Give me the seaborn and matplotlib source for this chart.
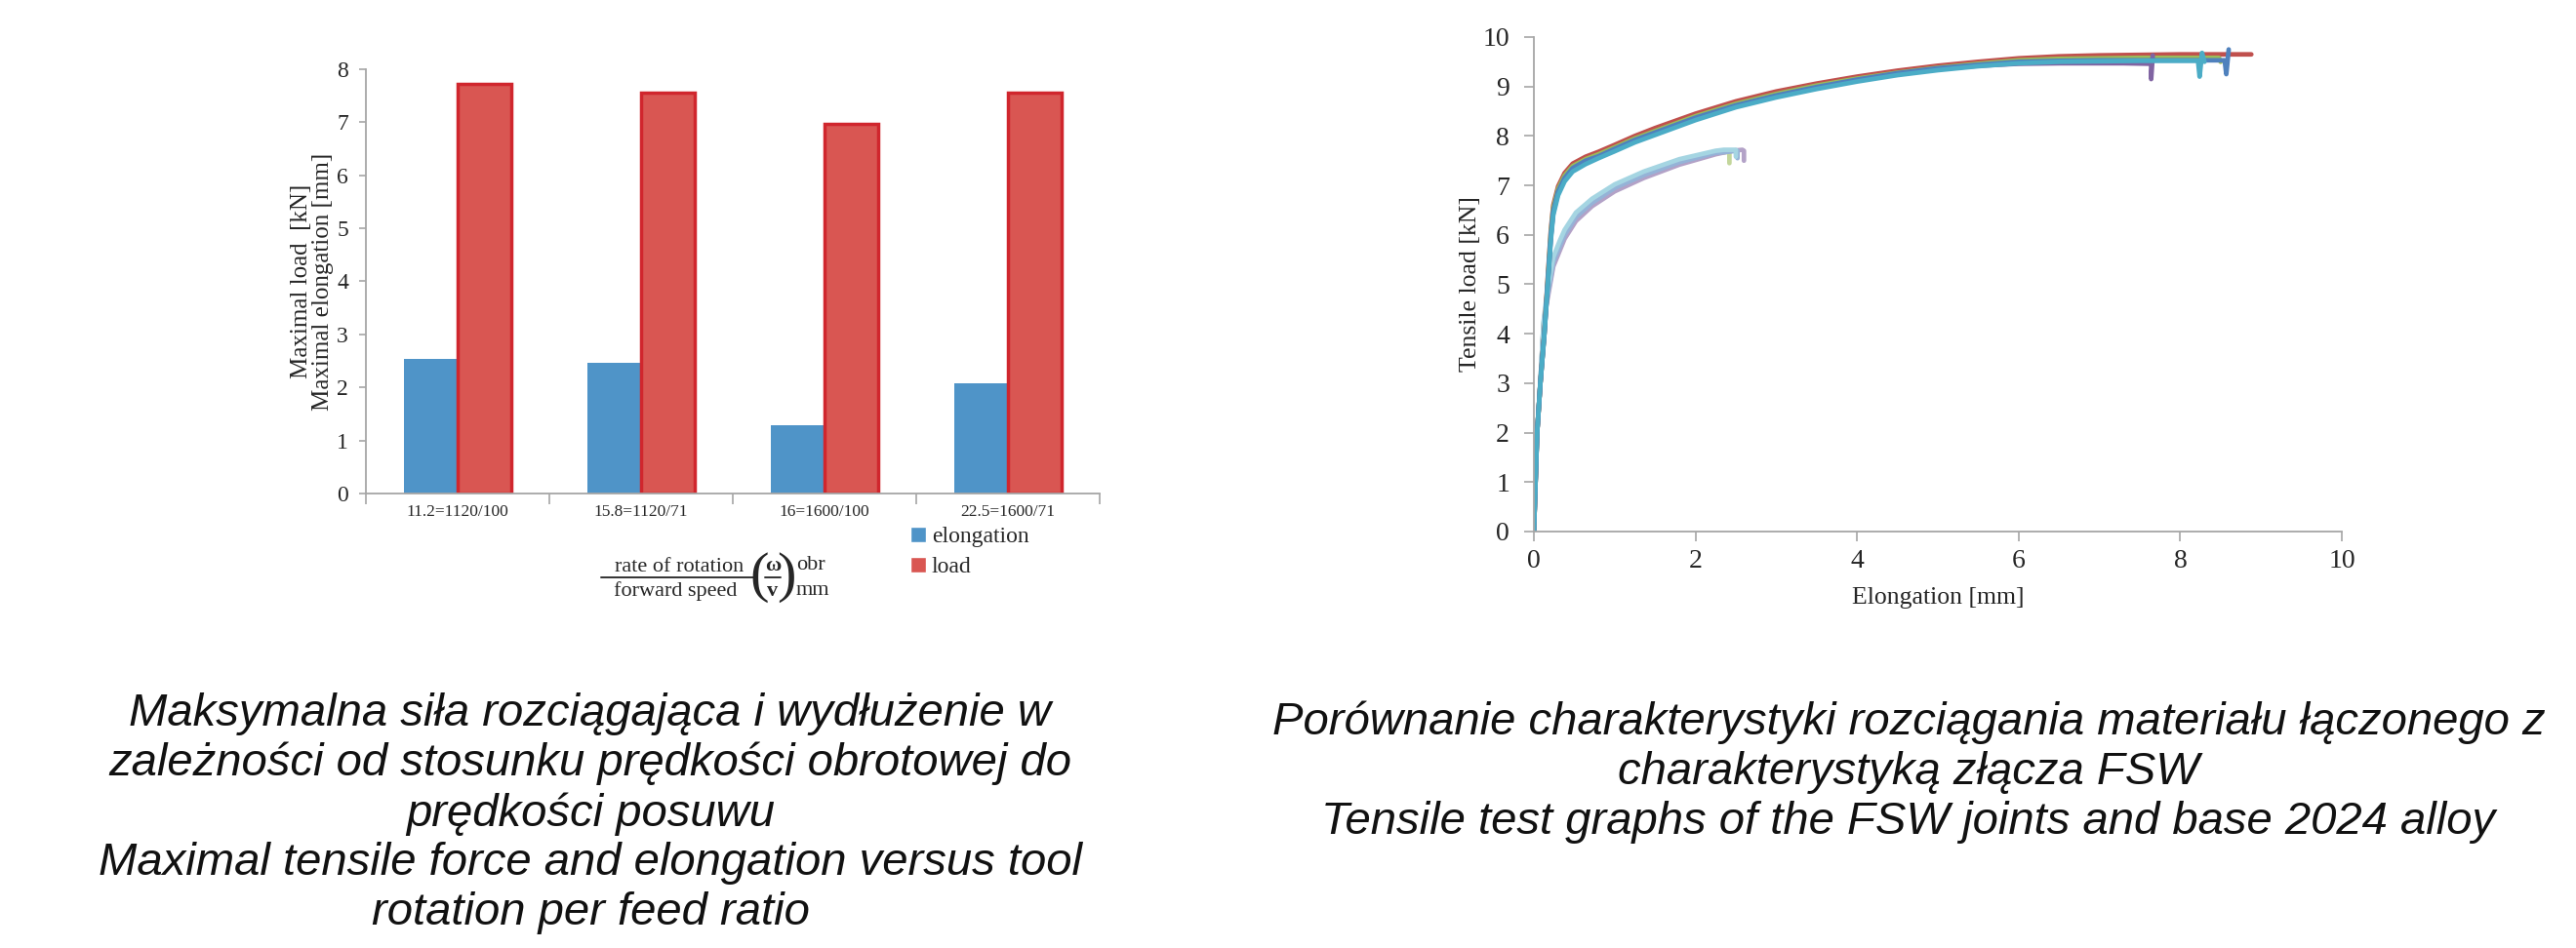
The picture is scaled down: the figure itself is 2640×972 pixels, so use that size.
import numpy as np
import pandas as pd
import matplotlib
matplotlib.use("Agg")
import matplotlib.pyplot as plt
from matplotlib.lines import Line2D
import seaborn as sns

# ---------------- data: left bar chart ----------------
categories = ["11.2=1120/100", "15.8=1120/71", "16=1600/100", "22.5=1600/71"]
elongation = [2.53, 2.47, 1.28, 2.07]
load = [7.73, 7.55, 6.97, 7.56]
series_names = ["elongation", "load"]

# ---------------- data: right tensile curves ----------------
base_x = [0, 0.02, 0.04, 0.08, 0.13, 0.17, 0.21, 0.24, 0.30, 0.38, 0.48, 0.64, 0.80,
          1.0, 1.25, 1.5, 2.0, 2.5, 3.0, 3.5, 4.0, 4.5, 5.0, 5.5, 6.0, 6.5, 7.0, 7.5]
red_x = base_x + [8.0, 8.5, 8.88]
red_y = [0, 1.0, 2.0, 3.0, 4.05, 5.1, 6.1, 6.6, 6.98, 7.25, 7.44, 7.58, 7.68,
         7.82, 8.0, 8.16, 8.45, 8.7, 8.9, 9.06, 9.2, 9.32, 9.42, 9.5, 9.57, 9.61, 9.63,
         9.64, 9.65, 9.65, 9.65]
green_x = base_x + [8.0, 8.48, 8.5]
green_y = [0, 1.0, 2.0, 3.0, 4.0, 5.05, 6.05, 6.55, 6.93, 7.2, 7.39, 7.53, 7.63,
           7.77, 7.95, 8.1, 8.4, 8.65, 8.85, 9.02, 9.16, 9.28, 9.38, 9.46, 9.53, 9.56,
           9.57, 9.58, 9.58, 9.58, 9.5]
purple_x = base_x[:-1] + [7.3, 7.64, 7.64, 7.66]
purple_y = [0, 1.0, 2.0, 3.0, 4.0, 4.98, 5.95, 6.45, 6.85, 7.12, 7.32, 7.47, 7.57,
            7.72, 7.9, 8.05, 8.35, 8.6, 8.8, 8.97, 9.12, 9.25, 9.35, 9.42, 9.46, 9.47,
            9.47, 9.47, 9.46, 9.15, 9.63]
blue_x = base_x + [8.0, 8.55, 8.57, 8.6]
blue_y = [0, 1.0, 2.0, 3.0, 4.0, 5.0, 5.97, 6.48, 6.88, 7.15, 7.35, 7.5, 7.59,
          7.74, 7.92, 8.07, 8.37, 8.62, 8.82, 8.99, 9.14, 9.27, 9.37, 9.44, 9.5, 9.52,
          9.53, 9.53, 9.53, 9.53, 9.25, 9.75]
teal_x = base_x + [8.0, 8.22, 8.24, 8.27, 8.3]
teal_y = [0, 1.0, 2.0, 3.0, 4.0, 4.95, 5.9, 6.4, 6.8, 7.08, 7.28, 7.43, 7.55,
          7.69, 7.87, 8.02, 8.32, 8.58, 8.78, 8.95, 9.1, 9.23, 9.33, 9.41, 9.47, 9.5,
          9.51, 9.52, 9.52, 9.52, 9.2, 9.68, 9.5]

joint_x = [0, 0.02, 0.04, 0.08, 0.12, 0.16, 0.24, 0.32, 0.38, 0.52, 0.72, 1.0, 1.36,
           1.8, 2.25]
jpurple_x = joint_x + [2.45, 2.58, 2.6, 2.6]
jpurple_y = [0, 1.0, 2.0, 3.0, 4.15, 4.62, 5.36, 5.68, 5.92, 6.28, 6.58, 6.88, 7.15,
             7.42, 7.63, 7.7, 7.72, 7.7, 7.5]
jblue_x = joint_x + [2.4, 2.52, 2.52]
jblue_y = [0, 1.0, 2.0, 3.0, 4.2, 4.7, 5.45, 5.77, 6.0, 6.36, 6.65, 6.95, 7.21, 7.47,
           7.66, 7.68, 7.7, 7.55]
jgreen_x = joint_x + [2.35, 2.42, 2.42]
jgreen_y = [0, 1.0, 2.0, 3.0, 4.2, 4.68, 5.42, 5.74, 5.97, 6.33, 6.62, 6.92, 7.18,
            7.45, 7.65, 7.67, 7.68, 7.45]
jaqua_x = joint_x + [2.35, 2.5, 2.5]
jaqua_y = [0, 1.0, 2.0, 3.0, 4.25, 4.8, 5.55, 5.88, 6.1, 6.45, 6.73, 7.02, 7.28, 7.53,
           7.7, 7.72, 7.72, 7.58]

curves = [
    (jgreen_x, jgreen_y, "#C3D69B"),
    (jpurple_x, jpurple_y, "#B3A2C7"),
    (jblue_x, jblue_y, "#95B3D7"),
    (jaqua_x, jaqua_y, "#A5D5E2"),
    (red_x, red_y, "#C0504D"),
    (green_x, green_y, "#9BBB59"),
    (purple_x, purple_y, "#8064A2"),
    (blue_x, blue_y, "#4F81BD"),
    (teal_x, teal_y, "#4BACC6"),
]

left_title = ("Maksymalna siła rozciągająca i wydłużenie w\n"
              "zależności od stosunku prędkości obrotowej do\n"
              "prędkości posuwu\n"
              "Maximal tensile force and elongation versus tool\n"
              "rotation per feed ratio")
right_title = ("Porównanie charakterystyki rozciągania materiału łączonego z\n"
               "charakterystyką złącza FSW\n"
               "Tensile test graphs of the FSW joints and base 2024 alloy")

# ---------------- figure ----------------
sns.set_theme(style="white")
plt.rcParams["font.family"] = ["Liberation Serif", "DejaVu Serif"]
W, H = 2640, 972
fig = plt.figure(figsize=(26.4, 9.72), dpi=100)

def fx(px):
    return px / W

def fy(py):
    return 1 - py / H

axis_gray = "#A6A6A6"

# ---------- left bar chart ----------
ax1 = fig.add_axes([fx(375), fy(506), fx(1127) - fx(375), fy(71) - fy(506)])
df = pd.DataFrame({
    "cat": categories * 2,
    "series": [series_names[0]] * len(categories) + [series_names[1]] * len(categories),
    "value": elongation + load,
})
sns.barplot(data=df, x="cat", y="value", hue="series", palette=["#4F94C8", "#D95652"],
            width=0.59, ax=ax1, saturation=1, errorbar=None)
for p in ax1.containers[0]:
    p.set_edgecolor("none")
for p in ax1.containers[1]:
    p.set_edgecolor("#D0262D")
    p.set_linewidth(2.5)
ax1.set_xlim(-0.5, len(categories) - 0.5)
ax1.set_ylim(0, 8)
ax1.set_yticks(range(0, 9))
ax1.tick_params(axis="y", labelsize=17, length=5, width=1.2, color=axis_gray, pad=8,
                left=True, direction="out")
ax1.set_xticks(range(len(categories)))
ax1.set_xticklabels(categories, fontsize=12.5)
ax1.tick_params(axis="x", which="major", length=0, pad=8)
ax1.set_xticks([i - 0.5 for i in range(len(categories) + 1)], minor=True)
ax1.tick_params(axis="x", which="minor", length=8, width=1.2, color=axis_gray,
                bottom=True, direction="out")
for s in ["top", "right"]:
    ax1.spines[s].set_visible(False)
for s in ["left", "bottom"]:
    ax1.spines[s].set_color(axis_gray)
    ax1.spines[s].set_linewidth(1.3)
ax1.set_xlabel("")
ax1.set_ylabel("Maximal load  [kN]\nMaximal elongation [mm]", fontsize=18, labelpad=2,
               linespacing=1.0)
handles, labels = ax1.get_legend_handles_labels()
ax1.legend(handles, labels, loc="upper left", bbox_to_anchor=(fx(933), fy(540)),
           bbox_transform=fig.transFigure, frameon=False, fontsize=17,
           handlelength=0.68, handleheight=0.68, handletextpad=0.25, labelspacing=0.4,
           borderpad=0, borderaxespad=0)

# formula annotation
fs = 16
fig.text(fx(696), fy(581), "rate of rotation", ha="center", va="center", fontsize=fs)
fig.text(fx(692), fy(606), "forward speed", ha="center", va="center", fontsize=fs)
fig.add_artist(Line2D([fx(616), fx(772)], [fy(592), fy(592)], color="#333333", lw=1.4,
                      transform=fig.transFigure))
fig.text(fx(778), fy(592), "(", ha="center", va="center", fontsize=42)
fig.text(fx(806), fy(592), ")", ha="center", va="center", fontsize=42)
fig.text(fx(792), fy(580), "ω", ha="center", va="center", fontsize=fs, fontweight="bold")
fig.text(fx(792), fy(606), "v", ha="center", va="center", fontsize=fs, fontweight="bold")
fig.add_artist(Line2D([fx(784), fx(800)], [fy(592), fy(592)], color="#333333", lw=1.4,
                      transform=fig.transFigure))
fig.text(fx(816), fy(580), "obr", ha="left", va="center", fontsize=fs)
fig.text(fx(816), fy(606), "mm", ha="left", va="center", fontsize=fs)

# ---------- right line chart ----------
ax2 = fig.add_axes([fx(1572), fy(545), fx(2400) - fx(1572), fy(38) - fy(545)])
for xs, ys, c in curves:
    sns.lineplot(x=xs, y=ys, color=c, lw=3.4, sort=False, estimator=None, ax=ax2)
ax2.set_xlim(0, 10)
ax2.set_ylim(0, 10)
ax2.set_xticks(range(0, 11, 2))
ax2.set_yticks(range(0, 11))
ax2.tick_params(axis="both", labelsize=20, length=7, width=1.2, color=axis_gray,
                direction="out", left=True, bottom=True)
ax2.tick_params(axis="x", pad=6)
ax2.tick_params(axis="y", pad=11)
for s in ["top", "right"]:
    ax2.spines[s].set_visible(False)
for s in ["left", "bottom"]:
    ax2.spines[s].set_color(axis_gray)
    ax2.spines[s].set_linewidth(1.3)
ax2.set_xlabel("Elongation [mm]", fontsize=18.5, labelpad=10)
ax2.set_ylabel("Tensile load [kN]", fontsize=18.5, labelpad=1)

# ---------- captions ----------
cap_family = ["Liberation Sans", "DejaVu Sans"]
fig.text(fx(605), fy(834), left_title, ha="center", va="center", fontsize=34,
         style="italic", family=cap_family, linespacing=1.2, color="#111111")
fig.text(fx(1956), fy(792), right_title, ha="center", va="center", fontsize=34,
         style="italic", family=cap_family, linespacing=1.2, color="#111111")

fig.savefig("out.png", dpi=100, facecolor="white")
